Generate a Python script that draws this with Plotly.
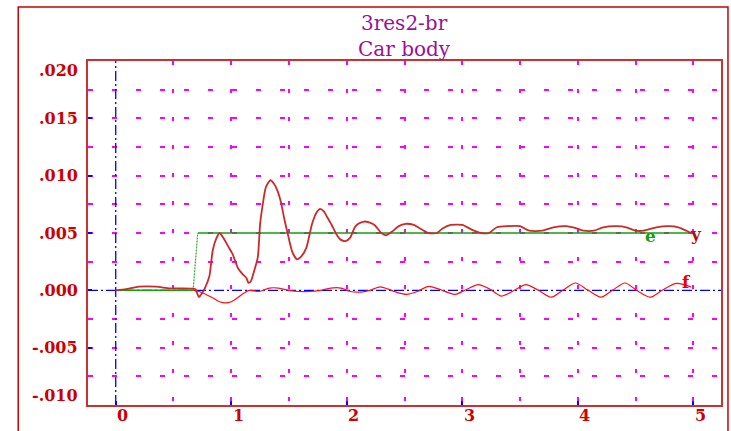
import plotly.graph_objects as go

# ---- data ----
y_t = [0, 0.09, 0.2, 0.35, 0.47, 0.66, 0.69, 0.72, 0.75, 0.77, 0.81, 0.84, 0.87, 0.90, 0.93, 0.97,
       1.01, 1.06, 1.10, 1.13, 1.15, 1.17, 1.19, 1.23, 1.25, 1.27, 1.30, 1.34, 1.37, 1.40, 1.43,
       1.46, 1.49, 1.53, 1.57, 1.61, 1.65, 1.70, 1.74, 1.77, 1.80, 1.83, 1.87, 1.91, 1.95, 1.99,
       2.03, 2.07, 2.10, 2.15, 2.20, 2.24, 2.30, 2.34, 2.39, 2.45, 2.51, 2.58, 2.65, 2.71, 2.78,
       2.83, 2.90, 3.00, 3.08, 3.16, 3.23, 3.30, 3.39, 3.50, 3.58, 3.69, 3.79, 3.90, 3.99, 4.05,
       4.14, 4.22, 4.34, 4.42, 4.50, 4.57, 4.68, 4.79, 4.87, 4.94, 4.98]
y_v = [0, 0.0001, 0.00032, 0.00032, 0.00017, 0.00015, 0.0001, -0.00058, -0.0002, 0.00015, 0.0012,
       0.0035, 0.0045, 0.0050, 0.0046, 0.0039, 0.0032, 0.0019, 0.0014, 0.0011, 0.00065, 0.0008,
       0.0014, 0.0029, 0.0058, 0.0073, 0.0090, 0.0096, 0.0093, 0.0087, 0.0077, 0.0062, 0.0049,
       0.0033, 0.0027, 0.0030, 0.0037, 0.0058, 0.0068, 0.0071, 0.0069, 0.0064, 0.0057, 0.0049,
       0.0044, 0.0043, 0.0046, 0.0055, 0.0058, 0.0060, 0.0059, 0.0057, 0.0050, 0.0048, 0.0051,
       0.0056, 0.0058, 0.0057, 0.0053, 0.0050, 0.0050, 0.0054, 0.0057, 0.0057, 0.0053, 0.0050,
       0.0050, 0.0055, 0.0056, 0.0056, 0.0052, 0.0052, 0.0055, 0.0056, 0.0054, 0.0052, 0.0052,
       0.0055, 0.0056, 0.0055, 0.0052, 0.0052, 0.0055, 0.0056, 0.0055, 0.0052, 0.0050]

f_t = [0.67, 0.72, 0.83, 0.90, 0.95, 1.00, 1.05, 1.10, 1.16, 1.24, 1.33, 1.41, 1.50, 1.59, 1.68,
       1.77, 1.86, 1.95, 2.03, 2.12, 2.20, 2.29, 2.36, 2.44, 2.52, 2.61, 2.71, 2.80, 2.88, 2.94,
       3.04, 3.14, 3.24, 3.34, 3.45, 3.55, 3.66, 3.77, 3.87, 3.98, 4.09, 4.20, 4.30, 4.41, 4.51,
       4.63, 4.73, 4.85, 4.92, 4.98]
f_v = [0, -0.0001, -0.0006, -0.0010, -0.0011, -0.0010, -0.0007, -0.0003, 0, -0.0001, 0.0002,
       0.0002, 0, -0.0001, -0.0001, 0, 0.0002, 0.0002, -0.0001, -0.00015, 0, 0.0003, 0.0001,
       -0.0002, -0.00035, -0.0001, 0.00035, 0.0001, -0.0002, -0.00035, 0.0001, 0.0005, 0.0001,
       -0.0005, 0, 0.0005, 0, -0.0006, 0, 0.00064, 0, -0.0006, 0, 0.00064, 0, -0.0006, 0, 0.0006,
       0.0005, 0.0003]

e_t = [0, 0.67, 0.71, 4.97]
e_v = [0, 0, 0.005, 0.005]

x_ticks = [0, 1, 2, 3, 4, 5]
x_labels = ["0", "1", "2", "3", "4", "5"]
y_ticks = [0.020, 0.015, 0.010, 0.005, 0.000, -0.005, -0.010]
y_labels = [".020", ".015", ".010", ".005", ".000", "-.005", "-.010"]
x_grid = [0.5, 1, 1.5, 2, 2.5, 3, 3.5, 4, 4.5, 5]
y_grid = [0.0175, 0.015, 0.0125, 0.01, 0.0075, 0.005, 0.0025, -0.0025, -0.005, -0.0075]

title_lines = ["3res2-br", "Car body"]
curve_labels = [("e", 4.63, 0.0047, "#10a010"), ("y", 5.02, 0.0049, "#b01010"), ("f", 4.94, 0.0007, "#ee0000")]

XR = [-0.24, 5.24]
YR = [-0.010, 0.020]

RED = "#cc0000"
MAG = "#ff00ff"
BLUE = "#0000ff"
SERIF = "DejaVu Serif"

fig = go.Figure()

# blue dash-dot axes through zero
fig.add_trace(go.Scatter(x=XR, y=[0, 0], mode="lines", hoverinfo="skip",
                         line=dict(color=BLUE, width=1.3, dash="10px,3px,2px,3px")))
fig.add_trace(go.Scatter(x=[0, 0], y=YR, mode="lines", hoverinfo="skip",
                         line=dict(color=BLUE, width=1.3, dash="10px,3px,2px,3px")))

# e step
fig.add_trace(go.Scatter(x=e_t[:2], y=e_v[:2], mode="lines", line=dict(color="#10a010", width=1.5)))
fig.add_trace(go.Scatter(x=e_t[1:3], y=e_v[1:3], mode="lines",
                         line=dict(color="#40b040", width=1.3, dash="2px,1px")))
fig.add_trace(go.Scatter(x=e_t[2:], y=e_v[2:], mode="lines", line=dict(color="#10a010", width=1.5)))

# f curve
fig.add_trace(go.Scatter(x=f_t, y=f_v, mode="lines", line=dict(color="#ff1010", width=1.2, shape="spline", smoothing=0.8)))
# y curve
fig.add_trace(go.Scatter(x=y_t, y=y_v, mode="lines", line=dict(color="#cc2a2a", width=1.8, shape="spline", smoothing=0.6)))

annotations = []
for v, lab in zip(y_ticks, y_labels):
    shift = 0
    if v == max(y_ticks):
        shift = -9
    elif v == min(y_ticks):
        shift = 10
    annotations.append(dict(x=0, xref="paper", y=v, yref="y", text=lab, showarrow=False,
                            xanchor="right", yanchor="middle", xshift=-8, yshift=shift,
                            font=dict(family=SERIF, size=16, color=RED, weight="bold")))
for v, lab in zip(x_ticks, x_labels):
    annotations.append(dict(x=v, xref="x", y=0, yref="paper", text=lab, showarrow=False,
                            xanchor="center", yanchor="middle", xshift=7, yshift=-10,
                            font=dict(family=SERIF, size=16, color=RED, weight="bold")))
annotations.append(dict(x=0.5, xref="paper", y=1, yref="paper", text=title_lines[0], showarrow=False,
                        xanchor="center", yanchor="middle", yshift=38, borderpad=0,
                        font=dict(family=SERIF, size=20, color="#9a109a")))
annotations.append(dict(x=0.5, xref="paper", y=1, yref="paper", text=title_lines[1], showarrow=False,
                        xanchor="center", yanchor="middle", yshift=12, borderpad=0,
                        font=dict(family=SERIF, size=20, color="#9a109a")))
for txt, xv, yv, col in curve_labels:
    annotations.append(dict(x=xv, xref="x", y=yv, yref="y", text=txt, showarrow=False,
                            xanchor="center", yanchor="middle",
                            font=dict(family=SERIF, size=17, color=col, weight="bold")))

W, H = 731, 431
L, R, T, B = 88, 8, 61, 26
pw, ph = W - L - R, H - T - B

shapes = [dict(type="rect", xref="paper", yref="paper",
               x0=(18 - L) / pw, x1=(730 - L) / pw,
               y0=(H - B - 445) / ph, y1=(H - B - 7) / ph,
               line=dict(color=RED, width=1.5), layer="below")]

fig.update_layout(
    width=W, height=H, margin=dict(l=L, r=R, t=T, b=B),
    paper_bgcolor="white", plot_bgcolor="white", showlegend=False,
    annotations=annotations, shapes=shapes,
    xaxis=dict(range=XR, tickvals=x_ticks, showticklabels=False, ticks="inside", ticklen=4,
               tickcolor=BLUE, tickwidth=1.5, showgrid=False, zeroline=False,
               showline=True, linecolor="#cc3030", linewidth=2, mirror=True,
               minor=dict(tickvals=x_grid, showgrid=True, gridcolor=MAG, gridwidth=1.5,
                          griddash="4px,24px", ticks="")),
    yaxis=dict(range=YR, tickvals=y_ticks, showticklabels=False, ticks="inside", ticklen=4,
               tickcolor=BLUE, tickwidth=1.5, showgrid=False, zeroline=False,
               showline=True, linecolor="#cc3030", linewidth=2, mirror=True,
               minor=dict(tickvals=y_grid, showgrid=True, gridcolor=MAG, gridwidth=1.5,
                          griddash="5px,19px", ticks="")),
)

fig.write_html("out.html")
